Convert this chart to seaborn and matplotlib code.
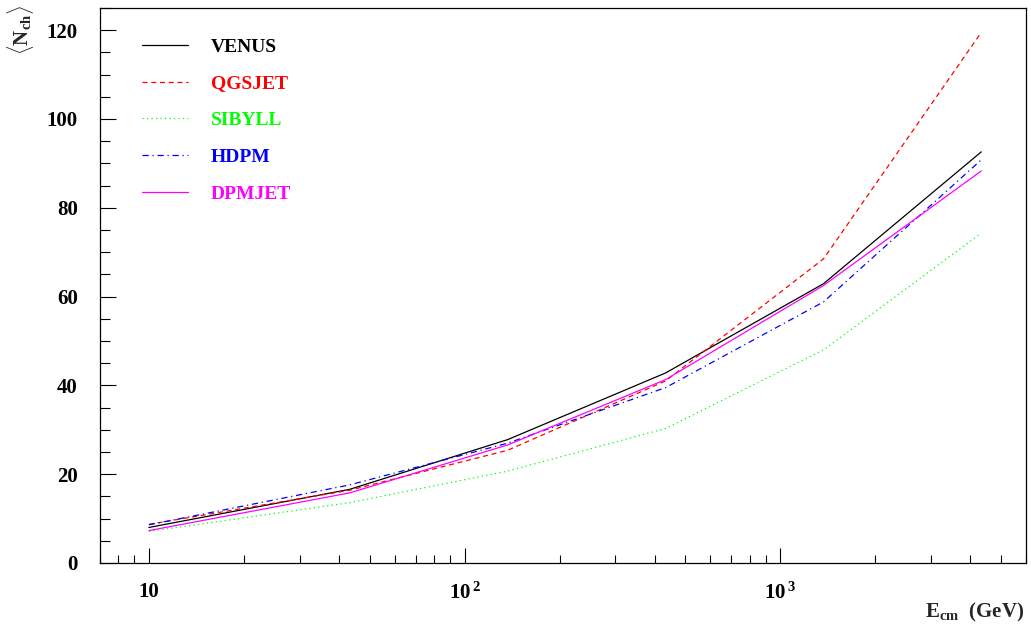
import numpy as np
import pandas as pd
import matplotlib
matplotlib.use("Agg")
import matplotlib.pyplot as plt
import matplotlib.ticker as mticker
import seaborn as sns

# ---- data ----
energy = [10, 43.3, 137, 433, 1370, 4330]
venus = [8.0, 16.6, 27.8, 42.8, 62.9, 92.6]
qgsjet = [8.7, 16.4, 25.4, 41.0, 68.5, 119.5]
sibyll = [7.1, 13.6, 20.7, 30.3, 48.0, 74.3]
hdpm = [8.6, 17.6, 27.0, 39.5, 58.8, 90.8]
dpmjet = [7.3, 15.8, 26.6, 41.3, 62.5, 88.3]
models = ["VENUS", "QGSJET", "SIBYLL", "HDPM", "DPMJET"]
y_ticks = [0, 20, 40, 60, 80, 100, 120]
x_ticks = [10, 100, 1000]
x_tick_labels = ["10", r"$\mathbf{10^{\,2}}$", r"$\mathbf{10^{\,3}}$"]

series = [venus, qgsjet, sibyll, hdpm, dpmjet]
df = pd.DataFrame({
    "E": energy * len(models),
    "N": sum(series, []),
    "model": sum([[m] * len(energy) for m in models], []),
})

colors = {"VENUS": "#000000", "QGSJET": "#ff0000", "SIBYLL": "#00ff00",
          "HDPM": "#0000ff", "DPMJET": "#ff00ff"}
dashes = {"VENUS": "", "QGSJET": (4, 3), "SIBYLL": (1, 2.6),
          "HDPM": (5, 3, 1, 3), "DPMJET": ""}

sns.set_theme(style="white")
plt.rcParams["font.family"] = ["Liberation Serif", "DejaVu Serif"]
plt.rcParams["font.weight"] = "bold"
plt.rcParams["mathtext.fontset"] = "custom"
plt.rcParams["mathtext.rm"] = "Liberation Serif:bold"
plt.rcParams["mathtext.bf"] = "Liberation Serif:bold"
plt.rcParams["mathtext.it"] = "Liberation Serif:bold"

fig = plt.figure(figsize=(10.31, 6.35), dpi=100)
ax = fig.add_axes([100 / 1031, 72 / 635, 926 / 1031, 555 / 635])

sns.lineplot(data=df, x="E", y="N", hue="model", style="model",
             palette=colors, dashes=dashes, hue_order=models,
             style_order=models, linewidth=0.9, ax=ax, legend=True)

ax.set_xscale("log")
ax.set_xlim(7, 6000)
ax.set_ylim(0, 125)
ax.set_xlabel("")
ax.set_ylabel("")

ax.set_yticks(y_ticks)
ax.set_yticklabels([str(v) for v in y_ticks])
ax.yaxis.set_minor_locator(mticker.MultipleLocator(5))
ax.xaxis.set_major_locator(mticker.FixedLocator(x_ticks))
ax.xaxis.set_major_formatter(mticker.FixedFormatter(x_tick_labels))
ax.xaxis.set_minor_locator(mticker.LogLocator(base=10, subs=np.arange(2, 10)))
ax.xaxis.set_minor_formatter(mticker.NullFormatter())

ax.tick_params(axis="both", which="both", direction="in", top=False,
               right=False, bottom=True, left=True, colors="black", width=0.8)
ax.tick_params(axis="y", which="major", length=11.5, pad=16, labelsize=15)
ax.tick_params(axis="y", which="minor", length=7)
ax.tick_params(axis="x", which="major", length=11, pad=14, labelsize=15)
ax.tick_params(axis="x", which="minor", length=5.5)
for lab in ax.get_xticklabels() + ax.get_yticklabels():
    lab.set_fontweight("bold")

for sp in ax.spines.values():
    sp.set_color("black")
    sp.set_linewidth(0.9)

leg = ax.legend(loc="upper left", bbox_to_anchor=(0.045, 0.946),
                frameon=False, fontsize=14, handlelength=2.37,
                handletextpad=1.2, labelspacing=0.99, borderpad=0,
                borderaxespad=0)
for txt, m in zip(leg.get_texts(), models):
    txt.set_color(colors[m])
    txt.set_fontweight("bold")
for h in leg.get_lines():
    h.set_linewidth(0.9)

fig.text(20 / 1031, 1 - 30 / 635, r"$\langle \mathbf{N_{ch}} \rangle$",
         rotation=90, ha="center", va="center", fontsize=15)
fig.text(1024 / 1031, 1 - 612 / 635, r"$\mathbf{E_{cm}}$  (GeV)",
         ha="right", va="center", fontsize=15, fontweight="bold")

fig.savefig("out.png", dpi=100)
